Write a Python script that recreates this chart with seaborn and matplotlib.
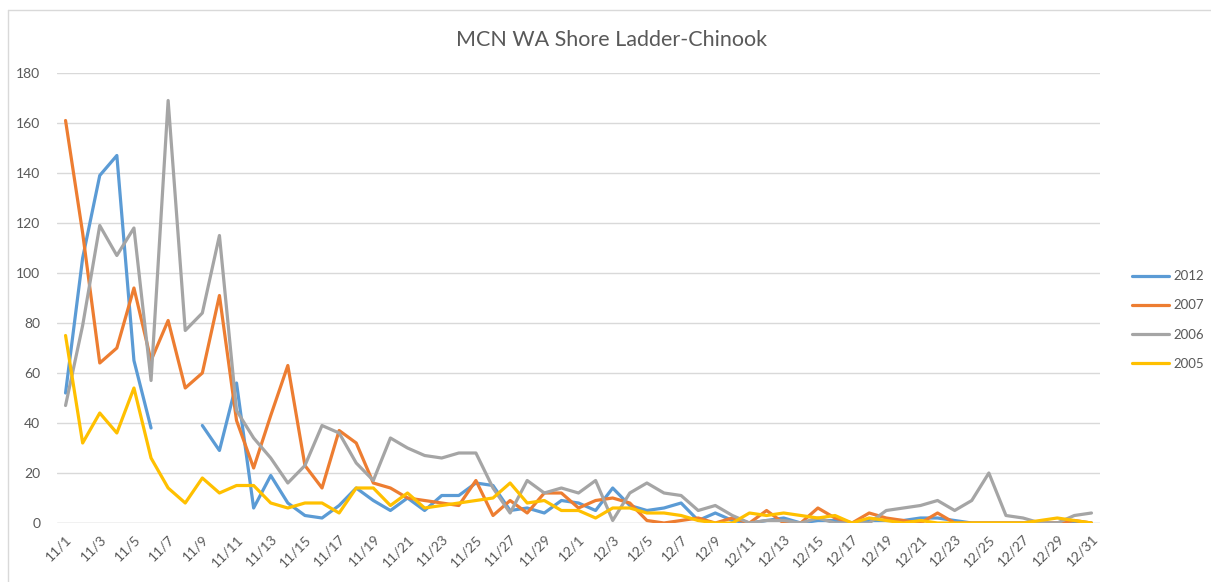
import matplotlib.pyplot as plt
import seaborn as sns
import pandas as pd
import numpy as np
from matplotlib.lines import Line2D

# dates 11/1 .. 12/31
dates = [f"11/{d}" for d in range(1, 31)] + [f"12/{d}" for d in range(1, 32)]

nan = np.nan
s2012 = [52, 106, 139, 147, 65, 38, nan, nan, 39, 29,
         56, 6, 19, 8, 3, 2, 7, 14, 9, 5,
         10, 5, 11, 11, 16, 15, 5, 6, 4, 9,
         8, 5, 14, 7, 5, 6, 8, 1, 4, 1,
         0, 1, 2, 0, 1, 1, 0, 1, 1, 1,
         2, 2, 1, 0, 0, 0, 0, 0, 0, 0, 0]
s2007 = [161, 116, 64, 70, 94, 65, 81, 54, 60, 91,
         41, 22, 43, 63, 23, 14, 37, 32, 16, 14,
         10, 9, 8, 7, 17, 3, 9, 4, 12, 12,
         6, 9, 10, 8, 1, 0, 1, 2, 0, 2,
         0, 5, 0, 0, 6, 2, 0, 4, 2, 1,
         0, 4, 0, 0, 0, 0, 0, 0, 0, 1, 0]
s2006 = [47, 79, 119, 107, 118, 57, 169, 77, 84, 115,
         45, 34, 26, 16, 23, 39, 36, 24, 17, 34,
         30, 27, 26, 28, 28, 14, 4, 17, 12, 14,
         12, 17, 1, 12, 16, 12, 11, 5, 7, 3,
         0, 1, 1, 0, 2, 0, 0, 0, 5, 6,
         7, 9, 5, 9, 20, 3, 2, 0, 0, 3, 4]
s2005 = [75, 32, 44, 36, 54, 26, 14, 8, 18, 12,
         15, 15, 8, 6, 8, 8, 4, 14, 14, 7,
         12, 6, 7, 8, 9, 10, 16, 8, 9, 5,
         5, 2, 6, 6, 4, 4, 3, 1, 0, 0,
         4, 3, 4, 3, 2, 3, 0, 2, 1, 0,
         1, 0, 0, 0, 0, 0, 0, 1, 2, 1, 0]

years = ["2012", "2007", "2006", "2005"]
colors = ["#5B9BD5", "#ED7D31", "#A5A5A5", "#FFC000"]
series = [s2012, s2007, s2006, s2005]

frames = []
for yr, vals in zip(years, series):
    v = pd.Series(vals, dtype=float)
    seg = v.isna().cumsum()
    frames.append(pd.DataFrame({"day": np.arange(len(dates)), "value": v,
                                "year": yr, "seg": seg}).dropna())
df = pd.concat(frames, ignore_index=True)

sns.set_style("white")
plt.rcParams["font.family"] = ["Lato", "DejaVu Sans"]

fig = plt.figure(figsize=(12.11, 5.82), dpi=100)
ax = fig.add_axes([57 / 1211, 1 - 523 / 582, 1043 / 1211, 450 / 582])

sns.lineplot(data=df, x="day", y="value", hue="year", units="seg",
             estimator=None, hue_order=years, palette=colors,
             linewidth=2.3, ax=ax, legend=False, solid_capstyle="round")

ax.set_xlim(-0.5, len(dates) - 0.5)
ax.set_ylim(0, 180)
ax.set_yticks(range(0, 181, 20))
ax.set_xticks(range(0, len(dates), 2))
ax.set_xticklabels(dates[::2], rotation=45, ha="right", rotation_mode="anchor")
ax.tick_params(axis="x", labelsize=10, colors="#595959", length=0, pad=7)
ax.tick_params(axis="y", labelsize=10, colors="#595959", length=0, pad=12)
ax.grid(axis="y", color="#D9D9D9", linewidth=1)
ax.set_axisbelow(True)
for sp in ax.spines.values():
    sp.set_visible(False)
ax.axhline(0, color="#D9D9D9", linewidth=1, zorder=0)
ax.set_xlabel("")
ax.set_ylabel("")

fig.text(612 / 1211, 1 - 40 / 582, "MCN WA Shore Ladder-Chinook",
         ha="center", va="center", fontsize=15.5, color="#595959")

handles = [Line2D([0], [0], color=c, linewidth=2.3) for c in colors]
fig.legend(handles, years, loc="center left",
           bbox_to_anchor=(1120 / 1211, 1 - 320 / 582), frameon=False,
           fontsize=9.5, labelcolor="#595959", handlelength=2.85,
           handletextpad=0.3, labelspacing=1.3)

# chart frame
fig.add_artist(Line2D([8 / 1211, 1], [1 - 10 / 582, 1 - 10 / 582],
                      transform=fig.transFigure, color="#D9D9D9", linewidth=1))
fig.add_artist(Line2D([8 / 1211, 8 / 1211], [0, 1 - 10 / 582],
                      transform=fig.transFigure, color="#D9D9D9", linewidth=1))

fig.savefig("out.png", dpi=100)
